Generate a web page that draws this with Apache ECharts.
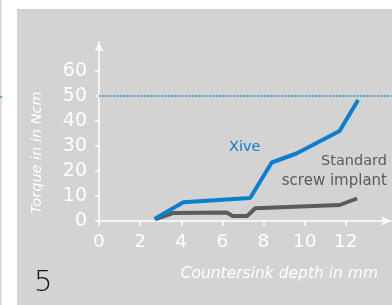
<!DOCTYPE html>
<html>
<head>
<meta charset="utf-8">
<script src="https://cdn.jsdelivr.net/npm/echarts@6/dist/echarts.min.js"></script>
<style>
  html, body { margin: 0; padding: 0; background: #fff; }
  #chart { width: 392px; height: 305px; }
</style>
</head>
<body>
<div id="chart"></div>
<script>
// data
const xiveX = [2.7, 4.1, 7.35, 8.4, 9.6, 11.7, 12.6]
const xiveY = [0.8, 7.5, 9.2, 23.4, 27, 36, 48.4]
const stdX = [2.75, 3.6, 6.2, 6.5, 7.2, 7.6, 11.7, 12.55]
const stdY = [0.8, 3.2, 3.4, 2, 2, 5.1, 6.4, 9]
const xTicks = [0, 2, 4, 6, 8, 10, 12]
const yTicks = [0, 10, 20, 30, 40, 50, 60]
const limitLine = 50

const font = '"DejaVu Sans", sans-serif'
const blue = '#0a7fcf'
const grey = '#5b5b5b'
const panel = '#d3d3d3'

const chart = echarts.init(document.getElementById('chart'))

const option = {
  animation: false,
  backgroundColor: '#fff',
  grid: { left: 99, top: 42, width: 292, height: 179 },
  xAxis: {
    type: 'value',
    min: 0,
    max: 14.2,
    name: 'Countersink depth in mm',
    nameLocation: 'end',
    nameGap: -13,
    nameTextStyle: {
      color: '#fff', fontFamily: font, fontStyle: 'italic', fontSize: 15.5,
      align: 'right', verticalAlign: 'top', padding: [45, 0, 0, 0]
    },
    splitLine: { show: false },
    axisLine: {
      lineStyle: { color: '#fff', width: 1.5 },
      symbol: ['none', 'arrow'], symbolSize: [7, 10]
    },
    axisTick: { customValues: xTicks, length: 5, lineStyle: { color: '#fff', width: 1.5 } },
    axisLabel: { customValues: xTicks, color: '#fff', fontFamily: font, fontSize: 18.5, margin: 12 }
  },
  yAxis: {
    type: 'value',
    min: 0,
    max: 71.6,
    name: 'Torque in in Ncm',
    nameLocation: 'middle',
    nameGap: 54,
    nameTextStyle: {
      color: '#fff', fontFamily: font, fontStyle: 'italic', fontSize: 14.5,
      padding: [0, 42, 0, 0]
    },
    splitLine: { show: false },
    axisLine: {
      show: true,
      lineStyle: { color: '#fff', width: 1.5 },
      symbol: ['none', 'arrow'], symbolSize: [7, 10]
    },
    axisTick: { show: true, customValues: yTicks, length: 4, lineStyle: { color: '#fff', width: 1.5 } },
    axisLabel: { customValues: yTicks, color: '#fff', fontFamily: font, fontSize: 19, margin: 12 }
  },
  graphic: [
    { type: 'rect', z: -10, shape: { x: 17, y: 9, width: 375, height: 296 }, style: { fill: panel } },
    { type: 'rect', z: -10, shape: { x: 0, y: 0, width: 1.5, height: 305 }, style: { fill: '#d6d6d6' } },
    { type: 'rect', z: -10, shape: { x: 0, y: 96.5, width: 2, height: 1.2 }, style: { fill: blue } },
    { type: 'text', x: 34, y: 283, style: { text: '5', fill: '#111', font: '200 29px ' + font, verticalAlign: 'middle' } },
    { type: 'text', x: 229, y: 147, style: { text: 'Xive', fill: blue, font: '14.5px ' + font, verticalAlign: 'middle' } },
    { type: 'text', x: 387, y: 161, style: { text: 'Standard', fill: grey, font: '14.5px ' + font, align: 'right', verticalAlign: 'middle' } },
    { type: 'text', x: 387, y: 181, style: { text: 'screw implant', fill: grey, font: '15px ' + font, align: 'right', verticalAlign: 'middle' } }
  ],
  series: [
    {
      name: 'Standard screw implant',
      type: 'line',
      data: stdX.map((x, i) => [x, stdY[i]]),
      showSymbol: false,
      lineStyle: { color: grey, width: 4 },
      z: 3
    },
    {
      name: 'Xive',
      type: 'line',
      data: xiveX.map((x, i) => [x, xiveY[i]]),
      showSymbol: false,
      lineStyle: { color: blue, width: 4 },
      z: 4,
      markLine: {
        silent: true,
        symbol: 'none',
        label: { show: false },
        lineStyle: { color: blue, type: 'dotted', width: 1.5 },
        data: [{ yAxis: limitLine }]
      }
    }
  ]
}

chart.setOption(option)
</script>
</body>
</html>
